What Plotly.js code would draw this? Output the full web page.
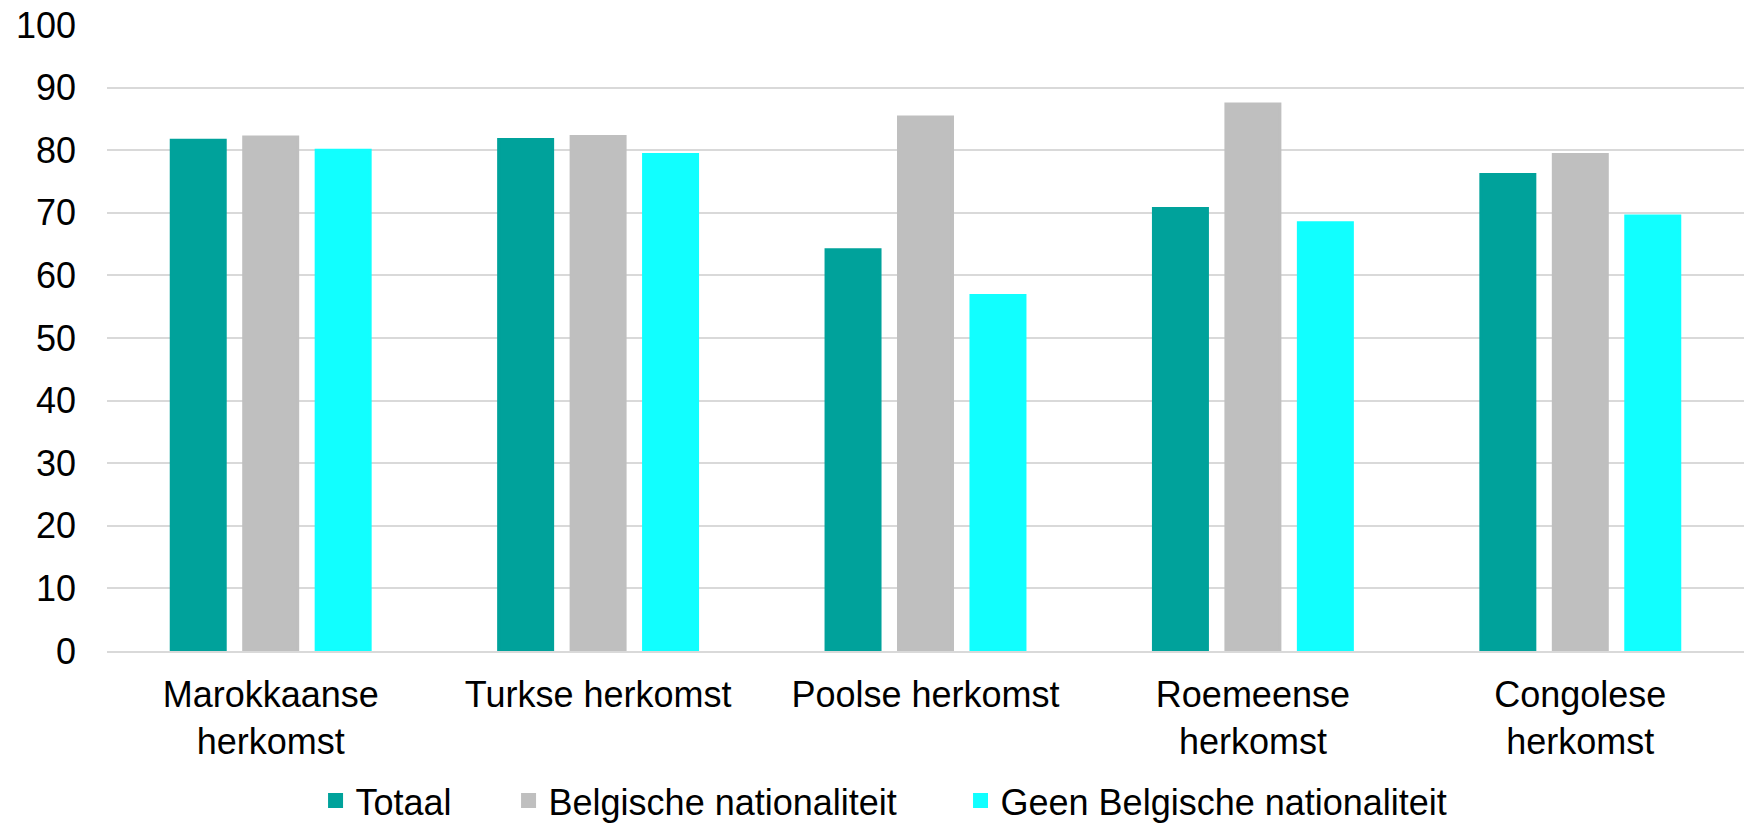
<!DOCTYPE html>
<html>
<head>
<meta charset="utf-8">
<script src="https://cdn.plot.ly/plotly-3.0.1.min.js"></script>
<style>
  html, body { margin: 0; padding: 0; background: #ffffff; }
  #chart { width: 1744px; height: 823px; }
</style>
</head>
<body>
<div id="chart"></div>
<script>
// ---- Data ----
const categories = [
  "Marokkaanse<br>herkomst",
  "Turkse herkomst",
  "Poolse herkomst",
  "Roemeense<br>herkomst",
  "Congolese<br>herkomst"
];
const seriesNames = ["Totaal", "Belgische nationaliteit", "Geen Belgische nationaliteit"];
const totaal = [81.6, 81.7, 64.1, 70.7, 76.1];
const belgische = [82.1, 82.2, 85.3, 87.4, 79.3];
const geenBelgische = [80.0, 79.3, 56.8, 68.4, 69.5];
const yTicks = [0, 10, 20, 30, 40, 50, 60, 70, 80, 90, 100];

// ---- Styles ----
const colors = ["#00A29B", "#BFBFBF", "#11FFFF"];
const FONT = "Liberation Sans, Arial, Helvetica, sans-serif";
const seriesValues = [totaal, belgische, geenBelgische];
const legendIds = ["legend", "legend2", "legend3"];

const traces = seriesValues.map((vals, i) => ({
  type: "bar",
  name: seriesNames[i],
  x: categories,
  y: vals,
  marker: { color: colors[i], line: { color: colors[i], width: 3 } },
  legend: legendIds[i],
  hoverinfo: "x+y+name"
}));

const legendBase = {
  orientation: "h",
  xanchor: "left",
  yanchor: "middle",
  y: -0.239,
  bgcolor: "rgba(0,0,0,0)",
  borderwidth: 0,
  font: { family: FONT, size: 36, color: "#000000" }
};
const legendX = [0.1274, 0.2453, 0.5214];

const layout = {
  width: 1744,
  height: 823,
  margin: { l: 107, r: 0, t: 25, b: 171.5, autoexpand: false },
  paper_bgcolor: "#ffffff",
  plot_bgcolor: "#ffffff",
  font: { family: FONT, size: 36, color: "#000000" },
  barmode: "group",
  bargap: 0.336,
  bargroupgap: 0.255,
  showlegend: true,
  legend: Object.assign({}, legendBase, { x: legendX[0] }),
  legend2: Object.assign({}, legendBase, { x: legendX[1] }),
  legend3: Object.assign({}, legendBase, { x: legendX[2] }),
  xaxis: {
    type: "category",
    tickmode: "array",
    tickvals: categories,
    ticktext: categories,
    showgrid: false,
    showline: true,
    linecolor: "#D9D9D9",
    linewidth: 2,
    ticks: "",
    ticklabelstandoff: 11,
    tickfont: { family: FONT, size: 36, color: "#000000" },
    zeroline: false,
    fixedrange: true
  },
  yaxis: {
    range: [0, 100],
    tickmode: "array",
    tickvals: yTicks,
    ticktext: yTicks.map(String),
    showgrid: true,
    gridcolor: "#D9D9D9",
    gridwidth: 1.5,
    zeroline: false,
    showline: false,
    ticks: "",
    ticklabelstandoff: 30,
    tickfont: { family: FONT, size: 36, color: "#000000" },
    fixedrange: true
  }
};

Plotly.newPlot("chart", traces, layout, { displayModeBar: false, staticPlot: false, responsive: false });
</script>
</body>
</html>
